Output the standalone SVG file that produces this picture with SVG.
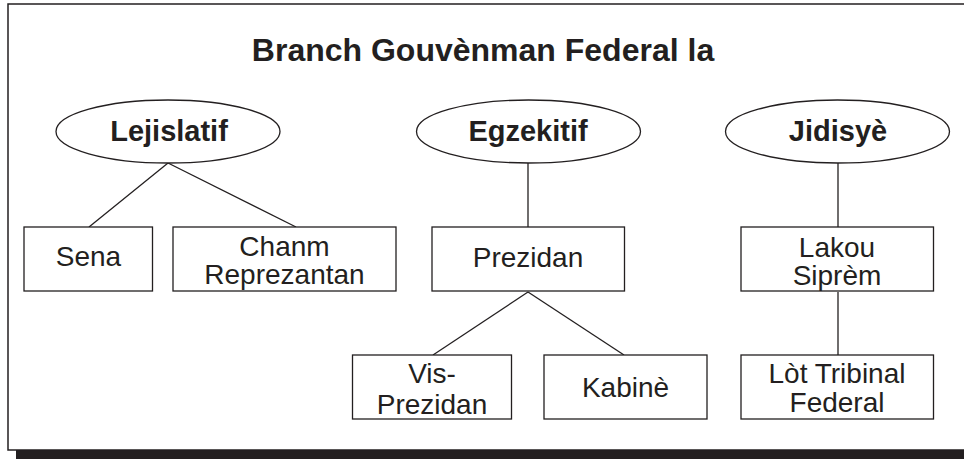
<svg xmlns="http://www.w3.org/2000/svg" width="964" height="459" viewBox="0 0 964 459">
<style>
.frame{fill:#ffffff;stroke:#231f20;stroke-width:1.5}
.box{fill:#ffffff;stroke:#231f20;stroke-width:1.3}
.ell{fill:#ffffff;stroke:#231f20;stroke-width:1.3}
.con{stroke:#231f20;stroke-width:1.3;fill:none}
.t{font-family:"Liberation Sans",Arial,sans-serif;font-size:28px;fill:#231f20;text-anchor:middle}
.b{font-weight:bold;font-size:29px}
.title{font-family:"Liberation Sans",Arial,sans-serif;font-size:32px;font-weight:bold;fill:#231f20;text-anchor:middle}
</style>
<rect x="0" y="0" width="964" height="459" fill="#ffffff"/>
<rect x="16" y="450" width="960" height="12" fill="#231f20"/>
<rect class="frame" x="8" y="4" width="970" height="446"/>
<text class="title" x="483" y="61">Branch Gouvènman Federal la</text>
<g id="connectors">
<line class="con" x1="168" y1="163" x2="89" y2="227"/>
<line class="con" x1="168" y1="163" x2="296" y2="227"/>
<line class="con" x1="528" y1="163" x2="528" y2="227"/>
<line class="con" x1="528" y1="292" x2="433" y2="355"/>
<line class="con" x1="528" y1="292" x2="624" y2="355"/>
<line class="con" x1="838" y1="163" x2="838" y2="227"/>
<line class="con" x1="838" y1="292" x2="838" y2="355"/>
</g>
<g id="lejislatif">
<ellipse class="ell" cx="168" cy="131.5" rx="112" ry="31.5"/>
<text class="t b" x="169" y="141">Lejislatif</text>
</g>
<g id="egzekitif">
<ellipse class="ell" cx="528.5" cy="131.5" rx="112" ry="31.5"/>
<text class="t b" x="528" y="141">Egzekitif</text>
</g>
<g id="jidisye">
<ellipse class="ell" cx="837.5" cy="131.5" rx="112" ry="31.5"/>
<text class="t b" x="838" y="141">Jidisyè</text>
</g>
<g id="sena">
<rect class="box" x="24" y="227" width="128.5" height="64"/>
<text class="t" x="88.5" y="266">Sena</text>
</g>
<g id="chanm">
<rect class="box" x="173" y="227" width="223" height="64"/>
<text class="t" x="284.5" y="256">Chanm</text>
<text class="t" x="284.5" y="284">Reprezantan</text>
</g>
<g id="prezidan">
<rect class="box" x="432" y="227" width="192.5" height="64"/>
<text class="t" x="528" y="267">Prezidan</text>
</g>
<g id="lakou">
<rect class="box" x="741" y="227" width="192.5" height="64"/>
<text class="t" x="837" y="257">Lakou</text>
<text class="t" x="837" y="285">Siprèm</text>
</g>
<g id="vis-prezidan">
<rect class="box" x="352.5" y="355" width="159" height="64"/>
<text class="t" x="432" y="383">Vis-</text>
<text class="t" x="432" y="414">Prezidan</text>
</g>
<g id="kabine">
<rect class="box" x="544" y="355" width="163" height="64"/>
<text class="t" x="625.5" y="397">Kabinè</text>
</g>
<g id="lot-tribinal">
<rect class="box" x="741" y="355" width="192.5" height="64"/>
<text class="t" x="837" y="383">Lòt Tribinal</text>
<text class="t" x="837" y="412">Federal</text>
</g>
</svg>
